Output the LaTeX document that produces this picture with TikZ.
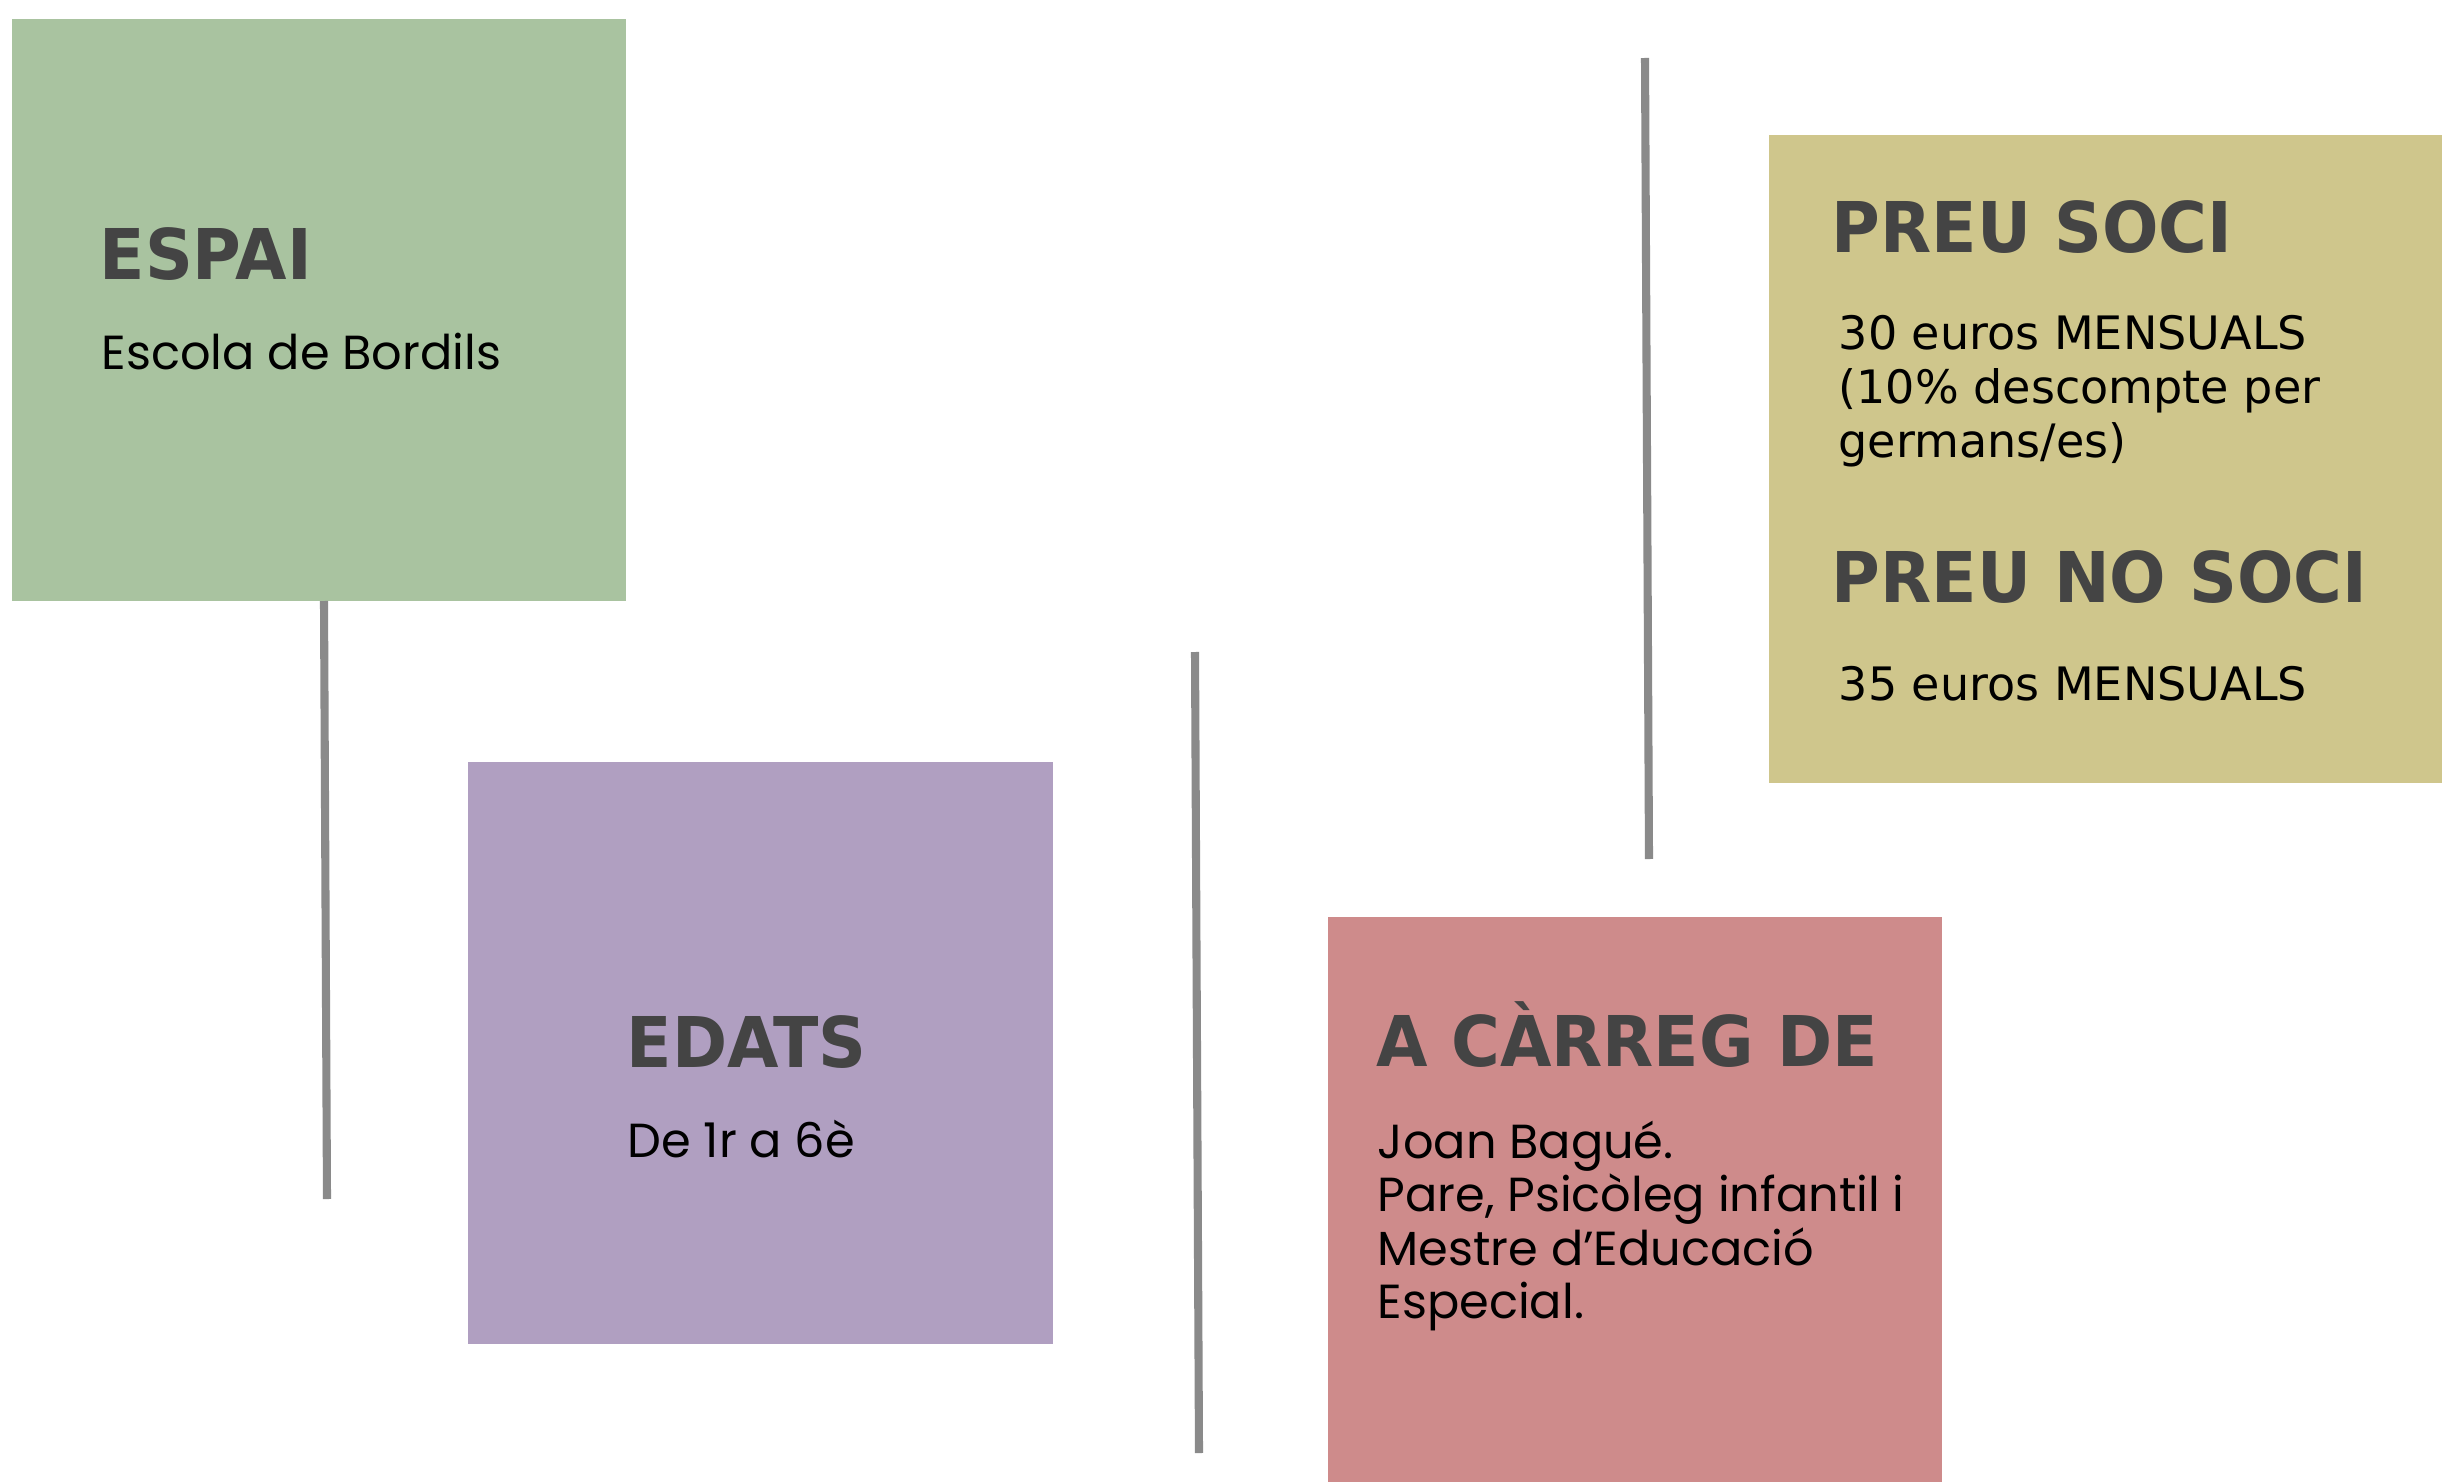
\documentclass[tikz,border=0pt]{standalone}
\usepackage{fontspec}
\newfontfamily\headfont{DejaVu Sans Bold}[FakeStretch=0.95]
\newfontfamily\bodyfont{Poppins}
\newfontfamily\pricefont{DejaVu Sans}
\definecolor{boxgreen}{RGB}{169,195,160}
\definecolor{boxpurple}{RGB}{176,159,193}
\definecolor{boxpink}{RGB}{206,139,139}
\definecolor{boxtan}{RGB}{207,198,140}
\definecolor{headgray}{RGB}{68,68,68}
\definecolor{linegray}{RGB}{138,138,138}
\tikzset{
  panel/.style={fill=#1, draw=none},
  headtxt/.style={anchor=base west, inner sep=0pt, text=headgray,
    font=\headfont\fontsize{19.9pt}{24pt}\selectfont},
  bodytxt/.style={anchor=base west, inner sep=0pt, text=black,
    font=\bodyfont\fontsize{13.6pt}{16pt}\selectfont},
  pricetxt/.style={anchor=base west, inner sep=0pt, text=black,
    font=\pricefont\fontsize{13.1pt}{15pt}\selectfont},
  stem/.style={draw=linegray, line width=2.3pt}
}
\begin{document}
\begin{tikzpicture}[x=0.01cm,y=-0.01cm]
\useasboundingbox (0,0) rectangle (2442,1482);
% panels
\path[panel=boxgreen]  (12,19) rectangle (626,601);
\path[panel=boxpurple] (468,762) rectangle (1053,1344);
\path[panel=boxpink]   (1328,917) rectangle (1942,1482);
\path[panel=boxtan]    (1769,135) rectangle (2442,783);
% stems
\coordinate (s1a) at (324,601);  \coordinate (s1b) at (327,1199);
\coordinate (s2a) at (1195,652); \coordinate (s2b) at (1199,1453);
\coordinate (s3a) at (1645,58);  \coordinate (s3b) at (1649,859);
\draw[stem] (s1a) -- (s1b);
\draw[stem] (s2a) -- (s2b);
\draw[stem] (s3a) -- (s3b);
% ESPAI
\node[headtxt] (espai) at (99,279) {ESPAI};
\node[bodytxt] (espaitxt) at (101,369) {Escola de Bordils};
% EDATS
\node[headtxt] (edats) at (626,1067) {EDATS};
\node[bodytxt] (edatstxt) at (627,1157) {De 1r a 6è};
% A CARREG DE
\node[headtxt] (carreg) at (1376,1066) {A CÀRREG DE};
\node[bodytxt] (carreg1) at (1377,1158) {Joan Bagué.};
\node[bodytxt] (carreg2) at (1377,1211) {Pare, Psicòleg infantil i};
\node[bodytxt] (carreg3) at (1377,1265) {Mestre d’Educació};
\node[bodytxt] (carreg4) at (1377,1318) {Especial.};
% PREU
\node[headtxt] (soci) at (1831,252) {PREU SOCI};
\node[pricetxt] (soci1) at (1838,349) {30 euros MENSUALS};
\node[pricetxt] (soci2) at (1838,403) {(10\% descompte per};
\node[pricetxt] (soci3) at (1838,457) {germans/es)};
\node[headtxt] (nosoci) at (1831,602) {PREU NO SOCI};
\node[pricetxt] (nosoci1) at (1838,700) {35 euros MENSUALS};
\end{tikzpicture}
\end{document}
